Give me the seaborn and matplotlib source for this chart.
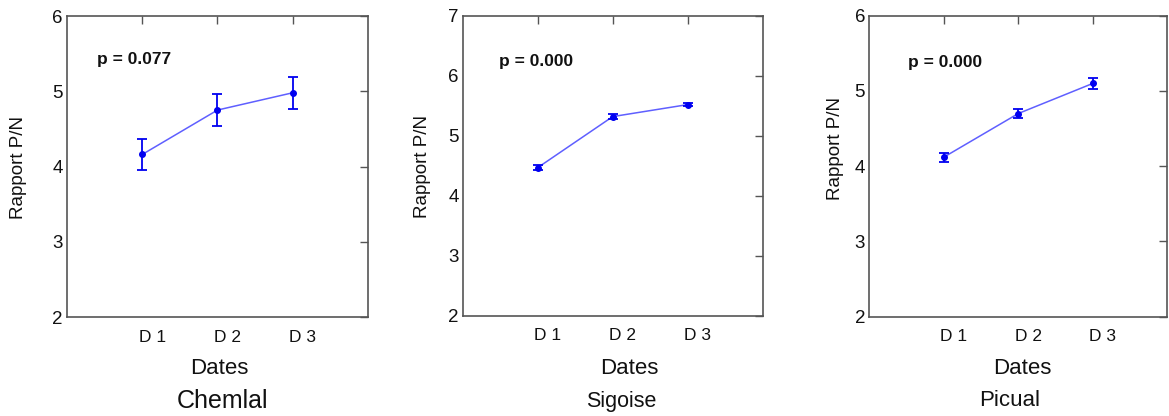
import matplotlib
matplotlib.use("Agg")
import matplotlib.pyplot as plt
import matplotlib.transforms as mtransforms
import seaborn as sns
import pandas as pd

sns.set_style("white")
plt.rcParams['font.family'] = ['Liberation Sans', 'DejaVu Sans']

dates = ["D 1", "D 2", "D 3"]
cultivars = ["Chemlal", "Sigoise", "Picual"]
chemlal_mean = [4.16, 4.75, 4.98]
chemlal_err = [0.21, 0.21, 0.21]
sigoise_mean = [4.47, 5.32, 5.52]
sigoise_err = [0.04, 0.04, 0.03]
picual_mean = [4.12, 4.70, 5.10]
picual_err = [0.06, 0.06, 0.07]
p_values = ["p = 0.077", "p = 0.000", "p = 0.000"]
y_limits = [(2, 6), (2, 7), (2, 6)]

means = [chemlal_mean, sigoise_mean, picual_mean]
errs = [chemlal_err, sigoise_err, picual_err]

fig = plt.figure(figsize=(11.69, 4.16), dpi=100)
W, H = 1169, 416
boxes = [(67, 16, 301, 301), (462.7, 15.7, 300, 300.3), (869.3, 15.7, 298, 301)]
p_pos = [(0.10, 0.854), (0.12, 0.849), (0.13, 0.843)]
ylab_x = [-0.133, -0.106, -0.085]
ylab_y = [0.498, 0.497, 0.56]
dates_x = [219, 629, 1022.7]
sub_x = [222.7, 621.7, 1010]
sub_size = [18, 15.5, 16]

line_col = "#5f5fff"
mark_col = "#0000f0"
spine_col = "#555555"

for i in range(3):
    l, t, w, h = boxes[i]
    ax = fig.add_axes([l / W, (H - t - h) / H, w / W, h / H])
    pos = [1, 2, 3]
    df = pd.DataFrame({"x": pos, "y": means[i]})
    sns.lineplot(data=df, x="x", y="y", ax=ax, color=line_col, linewidth=1.1)
    ax.errorbar(pos, means[i], yerr=errs[i], fmt="o", color=mark_col,
                markersize=4, elinewidth=1.3, capsize=3.5, capthick=1.3, zorder=3)
    ax.set_xlim(0, 4)
    ax.set_ylim(*y_limits[i])
    ax.set_xticks(pos)
    ax.set_xticklabels(dates)
    ax.set_yticks(range(y_limits[i][0], y_limits[i][1] + 1))
    ax.tick_params(direction="in", length=6, width=1, colors=spine_col,
                   top=True, right=True, labelcolor="#111111", pad=3)
    ax.tick_params(axis="y", labelsize=13.5)
    ax.tick_params(axis="x", labelsize=12.5, pad=9)
    offset = mtransforms.ScaledTranslation(10 / 100, 0, fig.dpi_scale_trans)
    for lab in ax.get_xticklabels():
        lab.set_transform(lab.get_transform() + offset)
    for s in ax.spines.values():
        s.set_color(spine_col)
        s.set_linewidth(1.2)
    ax.set_xlabel("")
    ax.set_ylabel("Rapport P/N", fontsize=13.5, color="#111111")
    ax.yaxis.set_label_coords(ylab_x[i], ylab_y[i])
    ax.text(p_pos[i][0], p_pos[i][1], p_values[i], transform=ax.transAxes,
            fontsize=12.5, fontweight="bold", color="#111111", va="center", ha="left")
    fig.text(dates_x[i] / W, 1 - 369 / H, "Dates",
             fontsize=16, ha="center", va="center", color="#111111")
    fig.text(sub_x[i] / W, 1 - 401 / H, cultivars[i], fontsize=sub_size[i],
             ha="center", va="center", color="#111111")

fig.savefig("out.png", dpi=100)
